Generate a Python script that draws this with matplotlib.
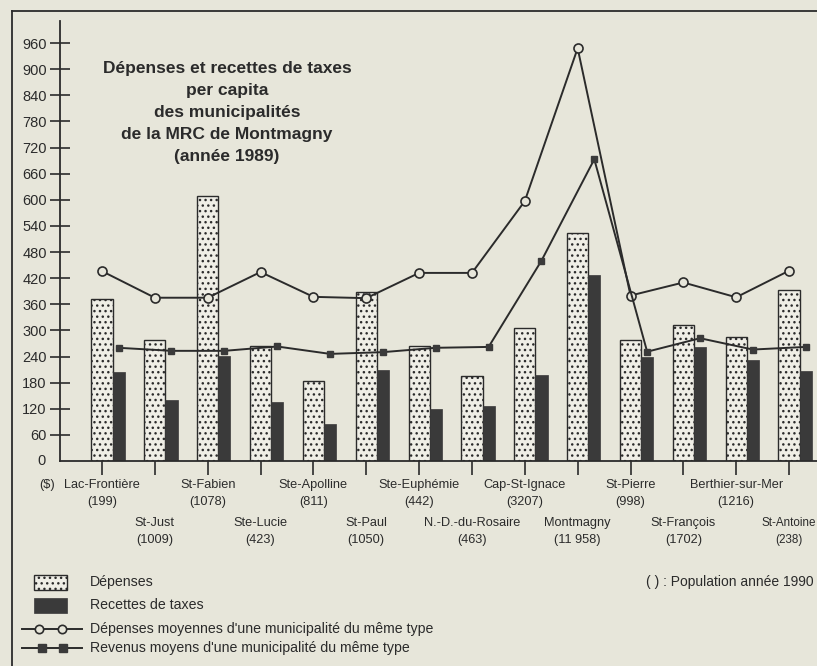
import matplotlib
matplotlib.use("Agg")
import matplotlib.pyplot as plt
import matplotlib.transforms as mtransforms
from matplotlib.patches import Rectangle
from matplotlib.lines import Line2D
import numpy as np

# ---------------- data ----------------
municipalites = ["Lac-Frontière", "St-Just", "St-Fabien", "Ste-Lucie", "Ste-Apolline",
                 "St-Paul", "Ste-Euphémie", "N.-D.-du-Rosaire", "Cap-St-Ignace",
                 "Montmagny", "St-Pierre", "St-François", "Berthier-sur-Mer", "St-Antoine"]
population = ["199", "1009", "1078", "423", "811", "1050", "442", "463", "3207",
              "11 958", "998", "1702", "1216", "238"]
depenses = [372, 278, 608, 265, 184, 389, 265, 195, 305, 523, 277, 313, 284, 393]
recettes = [204, 140, 241, 136, 85, 208, 119, 126, 197, 427, 240, 261, 232, 206]
dep_moyennes = [436, 375, 375, 434, 377, 374, 432, 432, 597, 948, 380, 410, 376, 437]
rev_moyens = [260, 253, 253, 263, 246, 250, 260, 262, 460, 693, 251, 282, 256, 262]
y_ticks = list(range(60, 961, 60))

title_lines = ["Dépenses et recettes de taxes", "per capita", "des municipalités",
               "de la MRC de Montmagny", "(année 1989)"]
legend_labels = ["Dépenses", "Recettes de taxes",
                 "Dépenses moyennes d'une municipalité du même type",
                 "Revenus moyens d'une municipalité du même type"]
note = "( ) : Population année 1990"

# ---------------- style ----------------
PAPER = "#e7e6da"
INK = "#2b2b2b"
DARK = "#3a3a3a"
plt.rcParams["font.family"] = ["Liberation Sans", "DejaVu Sans"]
plt.rcParams["hatch.linewidth"] = 1.0

W, H = 817, 666
fig = plt.figure(figsize=(W / 100, H / 100), dpi=100, facecolor=PAPER)

# overlay in pixel coordinates (frame, title, legend)
ov = fig.add_axes([0, 0, 1, 1])
ov.set_xlim(0, W)
ov.set_ylim(H, 0)
ov.axis("off")
ov.patch.set_alpha(0)

# main axes
x0_px, y0_px, ytop_px, xr_px = 60, 461, 21, 817
ax = fig.add_axes([x0_px / W, (H - y0_px) / H, (xr_px - x0_px) / W, (y0_px - ytop_px) / H])
ax.patch.set_alpha(0)
step = 52.85
first = 102
ax.set_xlim((x0_px - first) / step, (xr_px - first) / step)
ax.set_ylim(0, (y0_px - ytop_px) / 0.4354)

x = np.arange(len(municipalites))
bw1, bw2 = 0.40, 0.23
ax.bar(x, depenses, width=bw1, facecolor="#efeee6", edgecolor=INK, linewidth=1.0,
       hatch="...", zorder=2)
ax.bar(x + bw1 / 2 + bw2 / 2, recettes, width=bw2, color=DARK, edgecolor=DARK,
       linewidth=0.5, zorder=2)
ax.plot(x, dep_moyennes, color=INK, lw=1.4, marker="o", ms=6.5, mfc=PAPER,
        mec=INK, mew=1.2, zorder=4)
ax.plot(x + bw1 / 2 + bw2 / 2, rev_moyens, color=INK, lw=1.4, marker="s", ms=4.5,
        mfc=DARK, mec=DARK, zorder=4)

for s in ["top", "right"]:
    ax.spines[s].set_visible(False)
for s in ["left", "bottom"]:
    ax.spines[s].set_linewidth(1.3)
    ax.spines[s].set_color(INK)

ax.set_yticks(y_ticks)
ax.set_yticklabels([str(v) for v in y_ticks])
ax.tick_params(axis="y", direction="inout", length=15, width=1.2, color=INK,
               labelsize=10.5, labelcolor=INK, pad=2)
ax.set_xticks(x)
ax.set_xticklabels([])
ax.tick_params(axis="x", direction="out", length=10, width=1.2, color=INK)

# category labels in two staggered rows
blend = mtransforms.blended_transform_factory(ax.transData, ov.transData)
n = len(municipalites)
for i, (name, pop) in enumerate(zip(municipalites, population)):
    base = 485 if i % 2 == 0 else 523
    fs = 9.2 if i < n - 1 else 8.4
    ax.text(i, base, name, transform=blend, ha="center", va="center", fontsize=fs,
            color=INK, clip_on=False)
    ax.text(i, base + 17, f"({pop})", transform=blend, ha="center", va="center",
            fontsize=fs, color=INK, clip_on=False)

# zero label and unit
ov.text(46, 461, "0", ha="right", va="center", fontsize=10.5, color=INK)
ov.text(39, 485, "($)", ha="left", va="center", fontsize=9.2, color=INK)

# frame
ov.add_line(Line2D([12, W], [11, 11], color=INK, lw=1.3))
ov.add_line(Line2D([12, 12], [11, H], color=INK, lw=1.3))

# title
for k, t in enumerate(title_lines):
    ov.text(227, 68 + 22.2 * k, t, ha="center", va="center", fontsize=12.5,
            fontweight="bold", color=INK)

# legend
ov.add_patch(Rectangle((34, 575), 33, 15, facecolor="#efeee6", edgecolor=INK,
                       lw=1.0, hatch="..."))
ov.add_patch(Rectangle((34, 598), 33, 15, facecolor=DARK, edgecolor=DARK, lw=0.5))
ov.add_line(Line2D([22, 82], [629, 629], color=INK, lw=1.4))
ov.add_line(Line2D([39, 62], [629, 629], ls="none", marker="o", ms=6, mfc=PAPER,
                   mec=INK, mew=1.2))
ov.add_line(Line2D([22, 82], [648, 648], color=INK, lw=1.4))
ov.add_line(Line2D([42, 63], [648, 648], ls="none", marker="s", ms=6, mfc=DARK,
                   mec=DARK))
for yy, lab in zip([582, 605, 629, 648], legend_labels):
    ov.text(90, yy, lab, ha="left", va="center", fontsize=10.2, color=INK)
ov.text(814, 582, note, ha="right", va="center", fontsize=10, color=INK)

fig.savefig("out.png", dpi=100, facecolor=PAPER)
